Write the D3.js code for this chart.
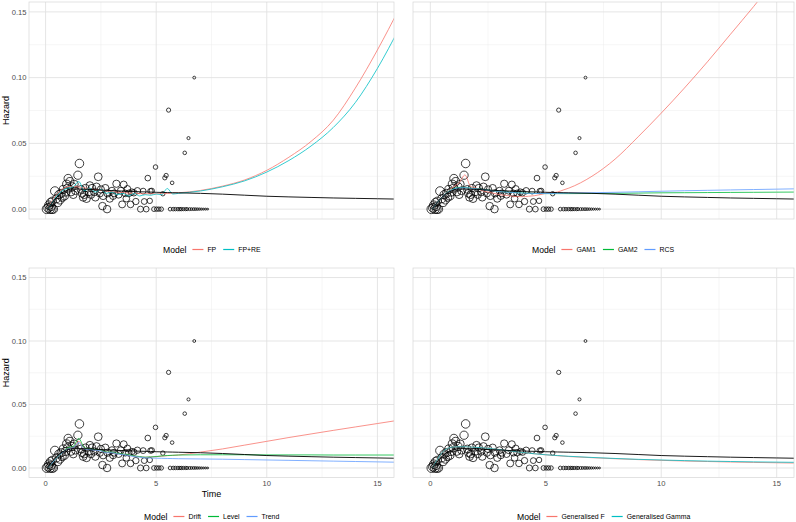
<!DOCTYPE html>
<html><head><meta charset="utf-8">
<script src="https://cdn.jsdelivr.net/npm/d3@7"></script>
<style>body{margin:0;background:#fff;} svg{display:block;font-family:"Liberation Sans",Arial,Helvetica,sans-serif;}</style>
</head><body><svg id="chart" width="796" height="522"></svg>
<script>
// ---------------- DATA ----------------
const timeGrid = [0.1,0.25,0.5,0.75,1,1.25,1.5,1.75,2,2.25,2.5,2.75,3,3.25,3.5,3.75,4,4.25,4.5,4.75,5,5.25,5.5,5.75,6,7,8,9,10,11,12,13,14,15,16];

const refHazard = [0.000,0.004,0.009,0.0125,0.0145,0.0152,0.0153,0.0152,0.015,0.0148,0.0145,0.0143,0.0141,0.0139,0.0137,0.0135,0.0134,0.0132,0.0131,0.013,0.0128,0.0127,0.0126,0.0125,0.0124,0.012,0.0114,0.0106,0.0098,0.0093,0.0089,0.0085,0.0082,0.0079,0.0076];

const fpHazard = [0.000,0.005,0.011,0.015,0.017,0.0172,0.0168,0.0162,0.0155,0.0149,0.0143,0.0138,0.0133,0.0129,0.0125,0.0122,0.012,0.0118,0.0117,0.0117,0.0117,0.0118,0.0119,0.0121,0.0124,0.0142,0.0175,0.0222,0.0295,0.0395,0.0515,0.0675,0.092,0.121,0.153];
const fpreHazard = [0.000,0.004,0.010,0.014,0.016,0.017,0.021,0.014,0.016,0.013,0.015,0.012,0.013,0.011,0.012,0.010,0.012,0.010,0.011,0.0105,0.0115,0.011,0.0157,0.0115,0.012,0.0138,0.017,0.0215,0.0282,0.037,0.048,0.062,0.081,0.107,0.138];

const gam1Hazard = [0.000,0.004,0.009,0.013,0.017,0.020,0.026,0.017,0.016,0.014,0.013,0.012,0.011,0.0105,0.010,0.0095,0.0095,0.0098,0.0102,0.011,0.012,0.0125,0.013,0.0145,0.016,0.025,0.038,0.055,0.073,0.092,0.112,0.133,0.154,0.176,0.198];
const gam2Hazard = [0.000,0.004,0.009,0.013,0.0155,0.0165,0.0165,0.016,0.0155,0.015,0.0145,0.014,0.0135,0.0131,0.0128,0.0125,0.0123,0.0121,0.012,0.0119,0.0118,0.0118,0.0118,0.0118,0.0118,0.0119,0.012,0.0122,0.0124,0.0125,0.0126,0.0127,0.0128,0.0129,0.013];
const rcsHazard = [0.000,0.004,0.009,0.0128,0.0152,0.0162,0.0163,0.0159,0.0154,0.0149,0.0144,0.0139,0.0134,0.013,0.0127,0.0124,0.0122,0.012,0.0119,0.0119,0.0119,0.0119,0.012,0.0121,0.0122,0.0125,0.0128,0.0132,0.0136,0.014,0.0143,0.0146,0.0149,0.0152,0.0155];

const driftHazard = [0.000,0.003,0.008,0.012,0.0155,0.0165,0.021,0.0155,0.0148,0.0143,0.0138,0.0123,0.0122,0.0112,0.0108,0.0102,0.0093,0.0088,0.0084,0.0086,0.0089,0.0093,0.0097,0.0099,0.0102,0.0125,0.015,0.018,0.021,0.024,0.0268,0.0296,0.0323,0.035,0.0377];
const levelHazard = [0.000,0.003,0.008,0.012,0.016,0.017,0.0232,0.016,0.015,0.0145,0.014,0.0125,0.0125,0.0115,0.011,0.0105,0.0095,0.009,0.0085,0.0087,0.009,0.0095,0.0098,0.01,0.0102,0.0104,0.0104,0.0104,0.0103,0.0103,0.0103,0.0102,0.0102,0.0102,0.0102];
const trendHazard = [0.000,0.003,0.008,0.012,0.015,0.016,0.020,0.015,0.0145,0.014,0.0135,0.012,0.012,0.011,0.0105,0.0098,0.009,0.0085,0.008,0.0078,0.0077,0.0076,0.0075,0.0074,0.0073,0.0071,0.0069,0.0066,0.0063,0.006,0.0057,0.0054,0.0051,0.0048,0.0045];

const genFHazard = [0.000,0.005,0.012,0.0155,0.0165,0.0167,0.0167,0.0165,0.0162,0.0159,0.0155,0.015,0.0145,0.0139,0.0133,0.0127,0.0122,0.0117,0.0112,0.0108,0.0104,0.01,0.0097,0.0093,0.009,0.0081,0.0073,0.0066,0.006,0.0055,0.0051,0.0047,0.0044,0.0041,0.0038];
const genGammaHazard = [0.000,0.005,0.012,0.0155,0.0165,0.0167,0.0167,0.0165,0.0162,0.0159,0.0155,0.015,0.0145,0.0139,0.0133,0.0127,0.0122,0.0117,0.0112,0.0108,0.0104,0.0101,0.0098,0.0095,0.0092,0.0083,0.0075,0.0068,0.0063,0.0058,0.0054,0.0051,0.0048,0.0046,0.0044];

// observed hazards: time, hazard, weight (number at risk -> point size)
const obsTime = [0.05,0.12,0.2,0.28,0.35,0.15,0.22,0.3,0.25,0.42,0.5,0.55,0.6,0.65,0.7,0.75,0.8,0.85,0.9,0.95,1.0,1.02,1.1,1.15,1.2,1.25,1.3,1.35,1.46,1.53,1.6,1.65,1.7,1.75,1.8,1.85,1.95,2.0,2.05,2.1,2.2,2.25,2.3,2.38,2.45,2.5,2.57,2.6,2.7,2.78,2.8,2.9,3.0,3.05,3.1,3.2,3.3,3.4,3.46,3.53,3.6,3.65,3.7,3.76,3.84,3.9,3.99,4.08,4.15,4.29,4.41,4.46,4.55,4.62,4.71,4.74,4.8,4.9,4.97,5.02,5.12,5.23,5.3,5.39,5.45,5.56,5.63,5.72,5.77,5.87,5.98,6.07,6.14,6.23,6.29,6.33,6.4,6.46,6.51,6.6,6.7,6.72,6.79,6.88,6.97,7.06,7.15,7.24,7.33];
const obsHazard = [0.000,0.001,0.000,0.000,0.000,0.003,0.005,0.006,0.002,0.0137,0.008,0.005,0.011,0.007,0.012,0.009,0.015,0.010,0.013,0.019,0.016,0.0233,0.021,0.013,0.017,0.011,0.019,0.014,0.0258,0.0347,0.015,0.012,0.009,0.011,0.016,0.008,0.013,0.018,0.011,0.016,0.013,0.009,0.017,0.0246,0.012,0.015,0.0023,0.010,0.016,0.000,0.012,0.008,0.014,0.010,0.012,0.0193,0.011,0.014,0.0036,0.0187,0.012,0.008,0.0154,0.0120,0.0036,0.013,0.0124,0.0058,0.014,0.000,0.0137,0.0058,0.000,0.0236,0.0063,0.0137,0.0139,0.000,0.032,0.000,0.000,0.000,0.0117,0.0238,0.0256,0.0753,0.000,0.020,0.000,0.000,0.000,0.000,0.000,0.000,0.0428,0.000,0.000,0.054,0.000,0.000,0.000,0.100,0.000,0.000,0.000,0.000,0.000,0.000,0.000];
const obsWeight = [100,100,95,95,90,90,85,85,90,95,85,80,85,85,80,80,80,80,80,80,80,85,80,75,80,75,75,75,85,90,75,75,75,75,70,75,70,70,70,70,70,70,70,75,65,65,70,65,65,70,65,65,60,60,60,65,60,60,60,60,55,55,55,55,55,50,50,50,50,45,42,42,40,40,36,36,36,28,26,24,24,24,24,22,22,22,17,16,16,15,15,14,14,13,16,13,12,12,11,10,10,10,9,8,7,6,5,5,4];

const xTicks = [0, 5, 10, 15];
const xTickLabels = ["0", "5", "10", "15"];
const yTicks = [0, 0.05, 0.10, 0.15];
const yTickLabels = ["0.00", "0.05", "0.10", "0.15"];

const palette2 = ["#F8766D", "#00BFC4"];
const palette3 = ["#F8766D", "#00BA38", "#619CFF"];

const panelModels = [
  {names: ["FP", "FP+RE"], series: [fpHazard, fpreHazard], colors: palette2},
  {names: ["GAM1", "GAM2", "RCS"], series: [gam1Hazard, gam2Hazard, rcsHazard], colors: palette3},
  {names: ["Drift", "Level", "Trend"], series: [driftHazard, levelHazard, trendHazard], colors: palette3},
  {names: ["Generalised F", "Generalised Gamma"], series: [genFHazard, genGammaHazard], colors: palette2}
];

// ---------------- LAYOUT ----------------
const layout = [
  {x0: 29, y0: 2, x1: 394, y1: 219, yLab: true, xLab: false, xTitle: false, legY: 249.5},
  {x0: 413, y0: 2, x1: 794, y1: 219, yLab: false, xLab: false, xTitle: false, legY: 249.5},
  {x0: 29, y0: 268, x1: 394, y1: 477.5, yLab: true, xLab: true, xTitle: true, legY: 516.5},
  {x0: 413, y0: 268, x1: 794, y1: 477.5, yLab: false, xLab: true, xTitle: false, legY: 516.5}
];

const svg = d3.select("#chart");
const points = obsTime.map((t, i) => ({t, h: obsHazard[i], w: obsWeight[i]}));
const rScale = d3.scaleSqrt().domain([0, 100]).range([0, 4.5]);

layout.forEach((L, pi) => {
  const xr = 15, yr = 0.15;
  const x = d3.scaleLinear().domain([-0.05 * xr, xr * 1.05]).range([L.x0, L.x1]);
  const y = d3.scaleLinear().domain([-0.05 * yr, yr * 1.05]).range([L.y1, L.y0]);
  const g = svg.append("g");

  // grid
  const minorX = [2.5, 7.5, 12.5], minorY = [0.025, 0.075, 0.125];
  g.selectAll(".mx").data(minorX).enter().append("line")
    .attr("x1", d => x(d)).attr("x2", d => x(d)).attr("y1", L.y0).attr("y2", L.y1)
    .attr("stroke", "#ededed").attr("stroke-width", 0.5);
  g.selectAll(".my").data(minorY).enter().append("line")
    .attr("y1", d => y(d)).attr("y2", d => y(d)).attr("x1", L.x0).attr("x2", L.x1)
    .attr("stroke", "#ededed").attr("stroke-width", 0.5);
  g.selectAll(".gx").data(xTicks).enter().append("line")
    .attr("x1", d => x(d)).attr("x2", d => x(d)).attr("y1", L.y0).attr("y2", L.y1)
    .attr("stroke", "#e2e2e2").attr("stroke-width", 0.9);
  g.selectAll(".gy").data(yTicks).enter().append("line")
    .attr("y1", d => y(d)).attr("y2", d => y(d)).attr("x1", L.x0).attr("x2", L.x1)
    .attr("stroke", "#e2e2e2").attr("stroke-width", 0.9);

  // clip
  const cid = "clip" + pi;
  svg.append("clipPath").attr("id", cid).append("rect")
    .attr("x", L.x0).attr("y", L.y0).attr("width", L.x1 - L.x0).attr("height", L.y1 - L.y0);
  const plot = g.append("g").attr("clip-path", `url(#${cid})`);

  // points
  plot.selectAll("circle").data(points).enter().append("circle")
    .attr("cx", d => x(d.t)).attr("cy", d => y(d.h)).attr("r", d => rScale(d.w))
    .attr("fill", "none").attr("stroke", "#000").attr("stroke-width", 0.75);

  const line = d3.line().x(d => x(d[0])).y(d => y(d[1])).curve(d3.curveMonotoneX);
  const M = panelModels[pi];
  M.series.forEach((s, si) => {
    plot.append("path").attr("d", line(timeGrid.map((t, i) => [t, s[i]])))
      .attr("fill", "none").attr("stroke", M.colors[si]).attr("stroke-width", 0.8);
  });
  plot.append("path").attr("d", line(timeGrid.map((t, i) => [t, refHazard[i]])))
    .attr("fill", "none").attr("stroke", "#000").attr("stroke-width", 0.9);

  // border
  g.append("rect").attr("x", L.x0).attr("y", L.y0).attr("width", L.x1 - L.x0).attr("height", L.y1 - L.y0)
    .attr("fill", "none").attr("stroke", "#d6d6d6").attr("stroke-width", 0.7);

  // axes labels
  if (L.yLab) {
    g.selectAll(".yl").data(yTicks).enter().append("text")
      .attr("x", L.x0 - 2.5).attr("y", d => y(d)).attr("dy", "0.35em")
      .attr("text-anchor", "end").attr("fill", "#4d4d4d").style("font-size", "7.6px")
      .text((d, i) => yTickLabels[i]);
    g.append("text").attr("transform", `translate(${6},${(L.y0 + L.y1) / 2}) rotate(-90)`)
      .attr("text-anchor", "middle").attr("dy", "0.35em").style("font-size", "9px").attr("fill", "#000")
      .text("Hazard");
  }
  if (L.xLab) {
    g.selectAll(".xl").data(xTicks).enter().append("text")
      .attr("x", d => x(d)).attr("y", L.y1 + 6).attr("dy", "0.35em")
      .attr("text-anchor", "middle").attr("fill", "#4d4d4d").style("font-size", "7.6px")
      .text((d, i) => xTickLabels[i]);
  }
  if (L.xTitle) {
    g.append("text").attr("x", (L.x0 + L.x1) / 2).attr("y", L.y1 + 16.5).attr("dy", "0.35em")
      .attr("text-anchor", "middle").style("font-size", "9px").attr("fill", "#000").text("Time");
  }

  // legend
  const lg = svg.append("g");
  let lx = 0;
  const tt = lg.append("text").attr("x", lx).attr("y", L.legY).attr("dy", "0.35em")
    .style("font-size", "8.6px").attr("fill", "#000").text("Model");
  lx += tt.node().getComputedTextLength() + 6;
  M.names.forEach((nm, i) => {
    lg.append("rect").attr("x", lx).attr("y", L.legY - 0.6).attr("width", 11).attr("height", 1.2)
      .attr("fill", M.colors[i]);
    lx += 15;
    const t = lg.append("text").attr("x", lx).attr("y", L.legY).attr("dy", "0.35em")
      .style("font-size", "6.9px").attr("fill", "#000").text(nm);
    lx += t.node().getComputedTextLength() + 7;
  });
  const total = lx - 7;
  lg.attr("transform", `translate(${Math.round((L.x0 + L.x1) / 2 - total / 2)},0)`);
});
</script>
</body></html>
